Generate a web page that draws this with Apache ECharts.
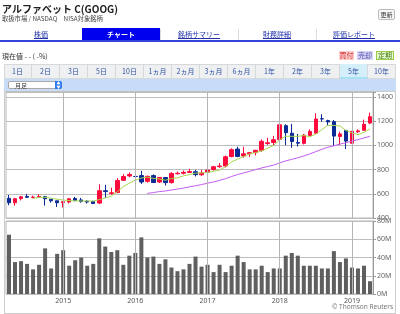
<!DOCTYPE html>
<html><head><meta charset="utf-8">
<script src="https://cdn.jsdelivr.net/npm/echarts@6/dist/echarts.min.js"></script>
<style>
html,body{margin:0;padding:0;width:400px;height:314px;overflow:hidden;background:#fff;font-family:"Noto Sans CJK JP","Noto Sans",sans-serif;}
.a{position:absolute;white-space:nowrap;}
#chart{position:absolute;left:0;top:0;width:400px;height:314px;z-index:1;}
.title{left:2px;top:2px;font-size:10px;font-weight:bold;line-height:13px;color:#222;z-index:2}
.sub{left:2px;top:15px;font-size:6.3px;line-height:8px;color:#444;z-index:2}
.upd{left:378px;top:9px;width:15px;height:9px;border:1px solid #bbb;border-radius:2px;background:#f6f6f6;font-size:6px;line-height:9px;text-align:center;color:#333;z-index:2}
.tab{top:28px;height:12px;font-size:7px;line-height:12px;text-align:center;color:#2233aa;text-decoration:underline;z-index:2}
.tab.on{background:#0000ee;color:#fff;text-decoration:none;font-weight:bold}
.sep{top:29px;width:1px;height:11px;background:#ddd;z-index:2}
.tabline{left:0;top:40px;width:400px;height:2px;background:#3344dd;z-index:2}
.now{left:2px;top:52px;font-size:7px;line-height:9px;color:#333;z-index:2}
.btn{top:51px;height:9px;font-size:7px;line-height:9px;text-align:center;z-index:2;box-sizing:border-box}
.prow{left:4px;top:64px;width:392px;height:15px;background:#eef0f2;border:1px solid #d6d8da;box-sizing:border-box;z-index:2}
.pb{top:64px;width:28px;height:15px;font-size:7px;line-height:15px;text-align:center;color:#3050a0;z-index:3;box-sizing:border-box;border-right:1px solid #d6d8da}
.pb.on{background:#d4eefa;border-bottom:2px solid #a8e0f4}
.band{left:4px;top:79px;width:392px;height:12px;background:#c9dcf7;z-index:2}
.sel{left:8px;top:81px;width:54px;height:8px;background:#fff;border:1px solid #a8a8a8;border-radius:2px;box-sizing:border-box;z-index:3;font-size:6px;line-height:7px;color:#333;padding-left:6px}
.arr{left:55px;top:81px;width:7px;height:8px;background:#2f7af0;border-radius:0 2px 2px 0;z-index:4;color:#fff;font-size:4px;line-height:4px;text-align:center}
.frame{left:4px;top:91px;width:392px;height:223px;border:1px solid #ccc;box-sizing:border-box;z-index:0}
</style></head>
<body>
<div class="a title">アルファベット C(GOOG)</div>
<div class="a sub">取扱市場 / NASDAQ　NISA対象銘柄</div>
<div class="a upd">更新</div>
<div class="a tab" style="left:2px;width:78px">株価</div>
<div class="a tab on" style="left:82px;width:78px">チャート</div>
<div class="a tab" style="left:160px;width:78px">銘柄サマリー</div>
<div class="a tab" style="left:238px;width:78px">財務詳細</div>
<div class="a tab" style="left:316px;width:76px">評価レポート</div>
<div class="a sep" style="left:160px"></div>
<div class="a sep" style="left:238px"></div>
<div class="a sep" style="left:316px"></div>
<div class="a tabline"></div>
<div class="a now">現在値 - - ( -%)</div>
<div class="a btn" style="left:339px;width:15px;background:#ffcfd0;color:#cc2a2a">買付</div>
<div class="a btn" style="left:357px;width:16px;background:#d9d5f8;color:#5050a8">売却</div>
<div class="a btn" style="left:376px;width:18px;background:#e6fbcf;border:1px solid #9c4;color:#447711;line-height:7px">定期</div>
<div class="a prow"></div>
<div id="pbs"></div>
<div class="a band"></div>
<div class="a sel">月足</div>
<div class="a arr">▲<br>▼</div>
<div class="a frame"></div>
<div id="chart"></div>
<script>
var periods = ['1日','2日','3日','5日','10日','1ヵ月','2ヵ月','3ヵ月','6ヵ月','1年','2年','3年','5年','10年'];
var months = ['2014/04','2014/05','2014/06','2014/07','2014/08','2014/09','2014/10','2014/11','2014/12',
'2015/01','2015/02','2015/03','2015/04','2015/05','2015/06','2015/07','2015/08','2015/09','2015/10','2015/11','2015/12',
'2016/01','2016/02','2016/03','2016/04','2016/05','2016/06','2016/07','2016/08','2016/09','2016/10','2016/11','2016/12',
'2017/01','2017/02','2017/03','2017/04','2017/05','2017/06','2017/07','2017/08','2017/09','2017/10','2017/11','2017/12',
'2018/01','2018/02','2018/03','2018/04','2018/05','2018/06','2018/07','2018/08','2018/09','2018/10','2018/11','2018/12',
'2019/01','2019/02','2019/03','2019/04'];
var opens = [562,526,560,578,570,571,576,555,542,527,532,561,549,538,536,523,625,603,610,711,747,743,750,703,750,697,734,692,765,769,776,782,757,778,800,824,829,907,969,912,930,940,959,1015,1023,1048,1162,1100,1023,1016,1081,1100,1219,1204,1195,1073,1123,1017,1112,1124,1184];
var closes = [526,559,575,571,572,577,559,542,526,534,558,546,537,532,520,625,618,608,710,742,759,742,697,744,693,735,692,768,769,777,784,758,771,796,823,829,905,964,908,930,939,959,1033,1021,1046,1169,1104,1031,1018,1084,1115,1217,1218,1193,1076,1094,1035,1116,1119,1173,1236];
var lows = [505,502,545,565,562,565,502,527,491,487,520,538,526,520,515,516,565,592,604,705,736,673,680,692,689,689,668,683,760,759,773,743,747,775,790,814,817,901,902,898,903,916,946,1003,1001,1045,1000,980,990,1007,1080,1093,1195,1162,995,1002,970,1016,1101,1122,1175];
var highs = [590,566,582,599,584,596,582,556,543,539,565,575,566,548,543,678,674,650,730,762,776,750,789,749,760,737,737,779,783,792,806,797,797,812,830,854,916,975,988,988,945,962,1048,1062,1078,1186,1174,1177,1094,1094,1131,1265,1256,1211,1209,1112,1125,1118,1131,1212,1270];
var volumes = [65,35,36,33,27,32,50,28,44,48,31,37,40,31,33,61,52,46,48,32,42,45,62,40,41,33,38,29,25,27,33,41,30,32,24,32,24,31,42,35,27,27,31,24,28,28,42,45,42,31,31,31,28,28,47,35,39,29,28,31,14];
var maShort = ['-','-','-','-',561,571,571,564,555,548,544,541,540,541,539,552,566,581,616,661,687,712,730,737,727,722,712,726,731,748,758,771,772,777,786,795,825,863,886,907,929,940,954,976,1000,1046,1075,1074,1074,1081,1070,1093,1130,1165,1164,1160,1123,1103,1088,1107,1136];
var maLong = ['-','-','-','-','-','-','-','-','-','-','-','-','-','-','-','-','-','-','-','-','-','-','-',603,610,618,623,631,639,647,657,666,676,687,698,710,725,743,759,772,785,800,813,825,837,855,872,884,897,912,929,948,967,984,996,1010,1021,1035,1047,1061,1075];
var yearMarks = ['2015/01','2016/01','2017/01','2018/01','2019/01'];
var priceTicks = {min:400, max:1440, interval:200};
var volTicks = {min:0, max:80, interval:20};

var pbs = document.getElementById('pbs');
periods.forEach(function(p, i){
  var d = document.createElement('div');
  d.className = 'a pb' + (p === '5年' ? ' on' : '');
  d.style.left = (4 + i*28) + 'px';
  d.textContent = p;
  pbs.appendChild(d);
});

var candles = months.map(function(m, i){ return [opens[i], closes[i], lows[i], highs[i]]; });
var yearLines = yearMarks.map(function(m){ return {xAxis: m}; });
var lab = {fontFamily:'Noto Sans', fontSize:7, color:'#666'};
var chart = echarts.init(document.getElementById('chart'), null, {renderer:'canvas'});
chart.setOption({
  animation:false,
  backgroundColor:'transparent',
  grid:[
    {left:6, right:27, top:92, height:126, show:true, backgroundColor:'#fff', borderColor:'#b8b8b8', borderWidth:1, outerBoundsMode:'none'},
    {left:6, right:27, top:221, height:73, show:true, backgroundColor:'#fff', borderColor:'#b8b8b8', borderWidth:1, outerBoundsMode:'none'}
  ],
  xAxis:[
    {type:'category', gridIndex:0, data:months, boundaryGap:true, axisLine:{show:false}, axisTick:{show:false}, axisLabel:{show:false}, splitLine:{show:false}},
    {type:'category', gridIndex:1, data:months, boundaryGap:true, axisLine:{show:false}, axisTick:{show:false}, splitLine:{show:false},
     axisLabel:Object.assign({}, lab, {color:'#555', margin:3, interval:function(i, v){ return v.slice(5) === '01'; }, formatter:function(v){ return v.slice(0,4); }})}
  ],
  yAxis:[
    {type:'value', gridIndex:0, position:'right', min:priceTicks.min, max:priceTicks.max, interval:priceTicks.interval,
     axisLine:{show:true, lineStyle:{color:'#999'}}, axisTick:{show:true, length:3, lineStyle:{color:'#999'}},
     axisLabel:Object.assign({}, lab, {margin:4, formatter:function(v){ return v % 200 === 0 ? String(v) : ''; }}),
     splitLine:{show:true, lineStyle:{color:'#bdbdbd', width:1}}},
    {type:'value', gridIndex:1, position:'right', min:volTicks.min, max:volTicks.max, interval:volTicks.interval,
     axisLine:{show:true, lineStyle:{color:'#999'}}, axisTick:{show:true, length:3, lineStyle:{color:'#999'}},
     axisLabel:Object.assign({}, lab, {margin:4, formatter:function(v){ return v + 'M'; }}),
     splitLine:{show:true, lineStyle:{color:'#bdbdbd', width:1}}}
  ],
  graphic:[
    {type:'text', right:7, top:304, style:{text:'© Thomson Reuters', fontFamily:'Noto Sans', fontSize:6.5, fill:'#777'}}
  ],
  series:[
    {type:'candlestick', xAxisIndex:0, yAxisIndex:0, data:candles, barWidth:4,
     itemStyle:{color:'#ff0a3c', color0:'#0a2a96', borderColor:'#ff0a3c', borderColor0:'#0a2a96', borderWidth:1},
     markLine:{silent:true, symbol:['none','none'], label:{show:false}, lineStyle:{color:'#b5b5b5', type:'solid', width:1}, data:yearLines}},
    {type:'line', xAxisIndex:0, yAxisIndex:0, data:maShort, symbol:'none', lineStyle:{color:'#a8d84e', width:1}, z:3},
    {type:'line', xAxisIndex:0, yAxisIndex:0, data:maLong, symbol:'none', lineStyle:{color:'#c45cf2', width:1}, z:3},
    {type:'bar', xAxisIndex:1, yAxisIndex:1, data:volumes, barWidth:4, itemStyle:{color:'#5f5f5f'},
     markLine:{silent:true, symbol:['none','none'], label:{show:false}, lineStyle:{color:'#b5b5b5', type:'solid', width:1}, data:yearLines}}
  ]
});
</script>
</body></html>
